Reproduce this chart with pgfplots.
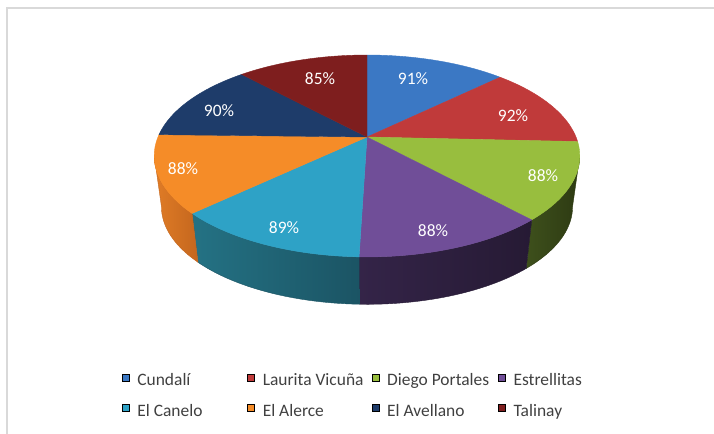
\documentclass[border=0pt]{standalone}
\usepackage{fontspec}
\setmainfont{Carlito}
\usepackage{pgfplots}
\usepackage{pgfplotstable}
\pgfplotsset{compat=1.18}

\definecolor{top0}{RGB}{59,120,196}
\definecolor{top1}{RGB}{192,58,58}
\definecolor{top2}{RGB}{152,190,62}
\definecolor{top3}{RGB}{112,78,152}
\definecolor{top4}{RGB}{46,162,198}
\definecolor{top5}{RGB}{245,140,40}
\definecolor{top6}{RGB}{30,60,106}
\definecolor{top7}{RGB}{126,30,30}
\definecolor{sideL0}{RGB}{40,80,140}\definecolor{sideR0}{RGB}{40,80,140}
\definecolor{sideL1}{RGB}{130,35,35}\definecolor{sideR1}{RGB}{130,35,35}
\definecolor{sideL2}{RGB}{62,80,28}\definecolor{sideR2}{RGB}{45,58,18}
\definecolor{sideL3}{RGB}{52,36,72}\definecolor{sideR3}{RGB}{38,26,52}
\definecolor{sideL4}{RGB}{36,114,132}\definecolor{sideR4}{RGB}{27,84,100}
\definecolor{sideL5}{RGB}{224,124,38}\definecolor{sideR5}{RGB}{196,102,30}
\definecolor{sideL6}{RGB}{20,40,70}\definecolor{sideR6}{RGB}{20,40,70}
\definecolor{sideL7}{RGB}{90,20,20}\definecolor{sideR7}{RGB}{90,20,20}
\definecolor{frame}{RGB}{217,217,217}

% values of the pie, and the label positions (y upward)
\pgfplotstableread[col sep=comma]{
name,value,lx,ly
Cundalí,91,413,355
Laurita Vicuña,92,513,318
Diego Portales,88,543,258
Estrellitas,88,433,203
El Canelo,89,284,206
El Alerce,88,183,265
El Avellano,90,219,323
Talinay,85,320,355
}\piedata

\begin{document}
\begin{tikzpicture}
% cumulative angles of the slices
\gdef\total{0}
\foreach \i in {0,...,7}{%
  \pgfplotstablegetelem{\i}{value}\of\piedata
  \pgfmathsetmacro\tmp{\total+\pgfplotsretval}%
  \global\let\total\tmp
}
\gdef\cum{0}
\foreach \i in {0,...,7}{%
  \pgfplotstablegetelem{\i}{value}\of\piedata
  \pgfmathsetmacro\myA{90-\cum/\total*360}%
  \pgfmathsetmacro\newcum{\cum+\pgfplotsretval}%
  \pgfmathsetmacro\myB{90-\newcum/\total*360}%
  \pgfmathsetmacro\mySA{min(\myA,-10.8)}%
  \pgfmathsetmacro\mySB{max(\myB,-169.2)}%
  \pgfmathsetmacro\myOp{ifthenelse(\mySA>\mySB,1,0)}%
  \pgfmathsetmacro\mySB{min(\mySB,\mySA)}%
  \expandafter\xdef\csname thA\i\endcsname{\myA}%
  \expandafter\xdef\csname thB\i\endcsname{\myB}%
  \expandafter\xdef\csname sA\i\endcsname{\mySA}%
  \expandafter\xdef\csname sB\i\endcsname{\mySB}%
  \expandafter\xdef\csname sOp\i\endcsname{\myOp}%
  \global\let\cum\newcum
}
\begin{axis}[
  width=714bp, height=434bp, scale only axis,
  xmin=0, xmax=714, ymin=0, ymax=434,
  hide axis, clip=true,
  declare function={
    px(\ang,\rad)=367+209*\rad*cos(\ang)/(1+0.188*\rad*sin(\ang));
    py(\ang,\rad)=297+97.4*\rad*sin(\ang)/(1+0.188*\rad*sin(\ang));
    bx(\ang)=367+0.966*(px(\ang,1)-367);
    by(\ang)=py(\ang,1)+0.034*(-1216-py(\ang,1));
  },
  legend columns=4,
  legend image code/.code={\fill[#1] (0bp,-0.5bp) rectangle (7bp,6.5bp); \path (13.5bp,0bp);},
  legend style={draw=none, fill=none, inner sep=0pt, outer sep=0pt,
    at={(122/714,62/434)}, anchor=north west,
    font=\fontsize{17.5}{20}\selectfont, text=black!75,
    column sep=0pt, row sep=14bp, nodes={inner sep=1.5bp}},
  legend cell align=left,
]
% frame
\addplot[draw=frame, line width=1.5bp, forget plot] coordinates {(7,0) (7,426) (714,426)};
% side walls
\pgfplotsforeachungrouped \i in {0,...,7}{%
  \edef\SA{\csname sA\i\endcsname}\edef\SB{\csname sB\i\endcsname}%
  \edef\cmd{\noexpand\addplot[left color=sideL\i, right color=sideR\i, draw=sideR\i, line width=0.4bp,
    opacity=\csname sOp\i\endcsname, forget plot,
    domain=0:2.1, samples=85, variable=\noexpand\t]
   ({ifthenelse(\noexpand\t<1.0001, px(\SA+(\SB-\SA)*min(\noexpand\t,1),1), bx(\SB+(\SA-\SB)*max(0,min(1,\noexpand\t-1.1))))},
    {ifthenelse(\noexpand\t<1.0001, py(\SA+(\SB-\SA)*min(\noexpand\t,1),1), by(\SB+(\SA-\SB)*max(0,min(1,\noexpand\t-1.1))))}) -- cycle;}%
  \cmd
}
% top faces
\pgfplotsforeachungrouped \i in {0,...,7}{%
  \edef\A{\csname thA\i\endcsname}\edef\B{\csname thB\i\endcsname}%
  \edef\cmd{\noexpand\addplot[fill=top\i, draw=top\i, line width=0.4bp, forget plot,
    domain=0:1.05, samples=43, variable=\noexpand\t]
   ({px(\A+(\B-\A)*min(\noexpand\t,1),ifthenelse(\noexpand\t>1.01,0,1))},
    {py(\A+(\B-\A)*min(\noexpand\t,1),ifthenelse(\noexpand\t>1.01,0,1))}) -- cycle;}%
  \cmd
}
% percentage labels
\addplot[draw=none, mark=none, forget plot,
  point meta=\thisrow{value},
  nodes near coords={\pgfmathprintnumber{\pgfplotspointmeta}\%},
  nodes near coords style={anchor=center, text=white,
    font=\fontsize{17.5}{20}\selectfont,
    /pgf/number format/assume math mode=true}]
  table[x=lx, y=ly]{\piedata};
% legend
\addlegendimage{fill=top0}\addlegendentry{\makebox[108.5bp][l]{Cundalí}}
\addlegendimage{fill=top1}\addlegendentry{\makebox[107.5bp][l]{Laurita Vicuña}}
\addlegendimage{fill=top2}\addlegendentry{\makebox[109.5bp][l]{Diego Portales}}
\addlegendimage{fill=top3}\addlegendentry{\makebox[80bp][l]{Estrellitas}}
\addlegendimage{fill=top4}\addlegendentry{\makebox[108.5bp][l]{El Canelo}}
\addlegendimage{fill=top5}\addlegendentry{\makebox[107.5bp][l]{El Alerce}}
\addlegendimage{fill=top6}\addlegendentry{\makebox[109.5bp][l]{El Avellano}}
\addlegendimage{fill=top7}\addlegendentry{\makebox[80bp][l]{Talinay}}
\end{axis}
\pgfresetboundingbox
\path[use as bounding box] (current axis.south west) rectangle (current axis.north east);
\end{tikzpicture}
\end{document}
